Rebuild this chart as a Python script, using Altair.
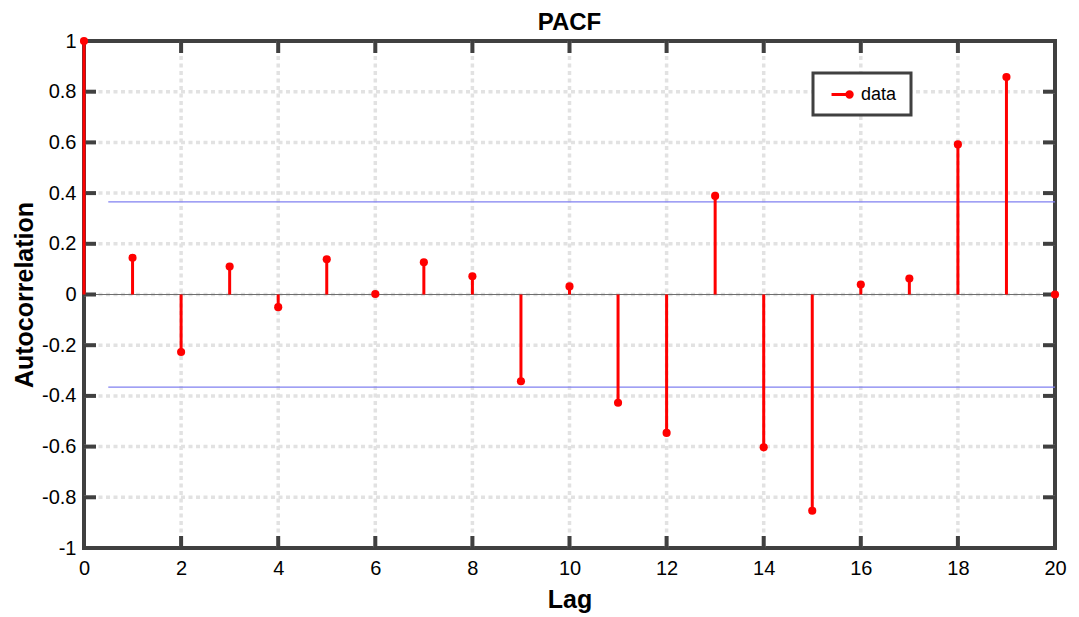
import altair as alt
import pandas as pd

# ---- data ----
lags = list(range(21))
pacf = [1.0, 0.145, -0.227, 0.110, -0.050, 0.139, 0.002, 0.127, 0.072, -0.342,
        0.032, -0.427, -0.546, 0.389, -0.603, -0.853, 0.039, 0.063, 0.592, 0.858, 0.0]
series_name = "data"
conf_level = 0.365          # +/- confidence bound
conf_from, conf_to = 0.5, 20
x_ticks = [0, 2, 4, 6, 8, 10, 12, 14, 16, 18, 20]
y_ticks = [-1, -0.8, -0.6, -0.4, -0.2, 0, 0.2, 0.4, 0.6, 0.8, 1]
x_dom = [0, 20]
y_dom = [-1, 1]

# ---- styles ----
FONT = "Liberation Sans"
RED = "#ff0000"
FRAME = "#404040"
GRID = "#e2e2e2"
W, H = 971, 507
tick_px = 12
tx = tick_px * (x_dom[1] - x_dom[0]) / W
ty = tick_px * (y_dom[1] - y_dom[0]) / H

df = pd.DataFrame({"Lag": lags, "PACF": pacf, "series": [series_name] * len(lags)})
conf_df = pd.DataFrame({"x": [conf_from, conf_from], "x2": [conf_to, conf_to],
                        "y": [conf_level, -conf_level]})

xs = alt.Scale(domain=x_dom, nice=False, zero=False)
ys = alt.Scale(domain=y_dom, nice=False, zero=False)

x_axis = alt.Axis(values=x_ticks, grid=False, title="Lag", labelFlush=False)
y_axis = alt.Axis(values=y_ticks, grid=False, title="Autocorrelation",
                  labelExpr="'' + datum.value")

# inner dotted grid (frame edges excluded so it does not dot the frame)
xgrid = pd.DataFrame({"x": [v for v in x_ticks if v not in x_dom]})
ygrid = pd.DataFrame({"y": [v for v in y_ticks if v not in y_dom]})

grid_x = alt.Chart(xgrid).mark_rule(color=GRID, strokeWidth=3.5, strokeDash=[4, 3.5]).encode(
    x=alt.X("x:Q", scale=xs, axis=x_axis)
)
grid_y = alt.Chart(ygrid).mark_rule(color=GRID, strokeWidth=3.5, strokeDash=[4, 3.5]).encode(
    y=alt.Y("y:Q", scale=ys, axis=y_axis)
)

zero_line = alt.Chart(df).mark_rule(color="#6e6e6e", strokeWidth=1).encode(
    y=alt.datum(0, scale=ys, axis=y_axis)
)

conf_lines = alt.Chart(conf_df).mark_rule(color="#8080f0", strokeWidth=1.2).encode(
    x=alt.X("x:Q", scale=xs, axis=x_axis),
    x2="x2:Q",
    y=alt.Y("y:Q", scale=ys, axis=y_axis),
)

stems = alt.Chart(df).mark_rule(color=RED, strokeWidth=3).encode(
    x=alt.X("Lag:Q", scale=xs, axis=x_axis),
    y=alt.Y("PACF:Q", scale=ys, axis=y_axis),
    y2=alt.datum(0),
)

legend_path = ("M-0.33,0L1.67,0M1.97,0A0.3,0.3,0,1,1,1.37,0"
               "A0.3,0.3,0,1,1,1.97,0Z")

points = alt.Chart(df).mark_point(filled=True, size=66, opacity=1, strokeWidth=0).encode(
    x=alt.X("Lag:Q", scale=xs, axis=x_axis),
    y=alt.Y("PACF:Q", scale=ys, axis=y_axis),
    color=alt.Color(
        "series:N",
        scale=alt.Scale(domain=[series_name], range=[RED]),
        legend=alt.Legend(
            title=" ", titleOrient="right", titleFontSize=18, titlePadding=4,
            orient="none", legendX=729, legendY=32,
            symbolType=legend_path, symbolSize=324,
            symbolFillColor=RED, symbolStrokeColor=RED, symbolStrokeWidth=3,
            symbolOpacity=1,
            labelFontSize=18, labelFont=FONT, labelColor="black", labelOffset=16,
            padding=11, strokeColor=FRAME, fillColor="white",
        ),
    ),
)

# inward tick marks on all four sides
bottom_t = pd.DataFrame({"x": x_ticks, "y": [y_dom[0]] * len(x_ticks),
                         "y2": [y_dom[0] + ty] * len(x_ticks)})
top_t = pd.DataFrame({"x": x_ticks, "y": [y_dom[1]] * len(x_ticks),
                      "y2": [y_dom[1] - ty] * len(x_ticks)})
left_t = pd.DataFrame({"y": y_ticks, "x": [x_dom[0]] * len(y_ticks),
                       "x2": [x_dom[0] + tx] * len(y_ticks)})
right_t = pd.DataFrame({"y": y_ticks, "x": [x_dom[1]] * len(y_ticks),
                        "x2": [x_dom[1] - tx] * len(y_ticks)})

def vticks(d):
    return alt.Chart(d).mark_rule(color=FRAME, strokeWidth=4).encode(
        x=alt.X("x:Q", scale=xs, axis=x_axis),
        y=alt.Y("y:Q", scale=ys, axis=y_axis),
        y2="y2:Q",
    )

def hticks(d):
    return alt.Chart(d).mark_rule(color=FRAME, strokeWidth=4).encode(
        x=alt.X("x:Q", scale=xs, axis=x_axis),
        x2="x2:Q",
        y=alt.Y("y:Q", scale=ys, axis=y_axis),
    )

chart = alt.layer(
    grid_x, grid_y, zero_line, conf_lines,
    vticks(bottom_t), vticks(top_t), hticks(left_t), hticks(right_t),
    stems, points,
).properties(
    width=W, height=H,
    title=alt.TitleParams("PACF", fontSize=24, fontWeight="bold", font=FONT,
                          color="black", offset=-4),
    autosize=alt.AutoSizeParams(type="none"),
    padding={"left": 76, "top": 33, "right": 16, "bottom": 70},
).configure_view(
    stroke=FRAME, strokeWidth=4
).configure_axis(
    domain=False, ticks=False, tickSize=0,
    labelFont=FONT, labelFontSize=20, labelColor="black",
    titleFont=FONT, titleFontSize=25, titleFontWeight="bold", titleColor="black",
).configure_axisX(
    labelPadding=10, titlePadding=9,
).configure_axisY(
    labelPadding=8, titlePadding=4,
).configure_legend(
    strokeWidth=3, cornerRadius=0,
)

chart.save("out.html", embed_options={"renderer": "svg", "actions": False})
